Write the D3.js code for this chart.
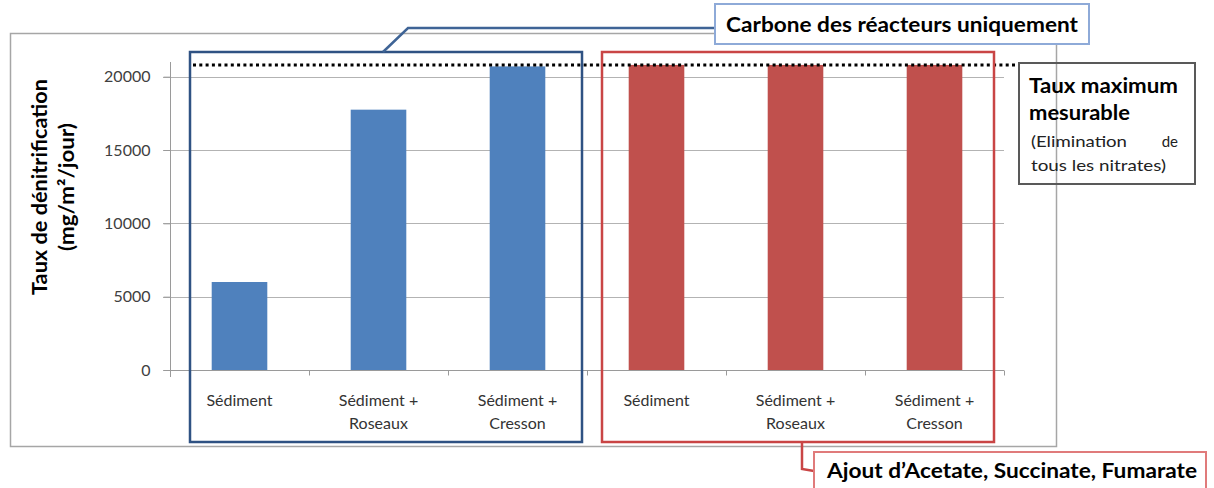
<!DOCTYPE html>
<html><head><meta charset="utf-8">
<script src="https://cdn.jsdelivr.net/npm/d3@7"></script>
<style>
html,body{margin:0;padding:0;background:#fff;}
svg{display:block;font-family:Lato,"Open Sans",sans-serif;}
</style></head>
<body>
<svg id="c" width="1214" height="488"></svg>
<script>
// ---- data ----
const categoryLabels = [["Sédiment"], ["Sédiment +", "Roseaux"], ["Sédiment +", "Cresson"]];
const reactorOnly = [6000, 17750, 20700];      // Carbone des réacteurs uniquement
const withAdditives = [20800, 20800, 20800];   // Ajout d'Acetate, Succinate, Fumarate
const maxMeasurable = 20800;
const yTicks = [0, 5000, 10000, 15000, 20000];
const groupTitles = ["Carbone des réacteurs uniquement", "Ajout d’Acetate, Succinate, Fumarate"];
const yTitle = ["Taux de dénitrification", "(mg/m²/jour)"];
const maxNote = ["Taux maximum", "mesurable"];
const maxNoteSmall = [["(Elimination", "de"], ["tous les nitrates)"]];

const rows = [];
reactorOnly.forEach((v, i) => rows.push({id: "a" + i, label: categoryLabels[i], value: v, group: 0}));
withAdditives.forEach((v, i) => rows.push({id: "b" + i, label: categoryLabels[i], value: v, group: 1}));

const svg = d3.select("#c");
const colors = ["#4f81bd", "#c0504d"];

// outer chart frame
svg.append("rect").attr("x", 10.5).attr("y", 33.5).attr("width", 1046).attr("height", 413)
  .attr("fill", "none").attr("stroke", "#a6a6a6").attr("stroke-width", 1.5);

const x = d3.scaleBand().domain(rows.map(d => d.id)).range([170, 1004])
  .paddingInner(0.6).paddingOuter(0.3);
const y = d3.scaleLinear().domain([0, 21000]).range([370, 62]);

// gridlines
svg.append("g").selectAll("line").data(yTicks).join("line")
  .attr("x1", 163).attr("x2", 1004)
  .attr("y1", d => Math.round(y(d)) + 0.5).attr("y2", d => Math.round(y(d)) + 0.5)
  .attr("stroke", "#b3b3b3").attr("stroke-width", 1);

// y axis
const ya = svg.append("g").attr("transform", "translate(170.5,0)")
  .call(d3.axisLeft(y).tickValues(yTicks).tickSize(7).tickPadding(13).tickFormat(d3.format("d")));
ya.select(".domain").attr("stroke", "#9a9a9a").attr("d", `M0,${y(21000)}V${y(0) + 7}`);
ya.selectAll(".tick line").attr("stroke", "#9a9a9a");
ya.selectAll("text").attr("font-size", 16).attr("fill", "#404040").attr("font-family", "Lato");

// x axis
const xa = svg.append("g").attr("transform", `translate(0,${Math.round(y(0)) + 0.5})`);
xa.append("line").attr("x1", 170).attr("x2", 1004).attr("stroke", "#9a9a9a");
const step = x.step();
xa.selectAll("line.t").data(d3.range(rows.length + 1)).join("line").attr("class", "t")
  .attr("x1", i => 170.5 + i * step).attr("x2", i => 170.5 + i * step)
  .attr("y1", 0).attr("y2", 5).attr("stroke", "#9a9a9a");
const xl = xa.selectAll("text").data(rows).join("text")
  .attr("text-anchor", "middle").attr("font-size", 16).attr("fill", "#333");
xl.each(function(d) {
  const t = d3.select(this);
  d.label.forEach((s, k) => t.append("tspan").attr("x", x(d.id) + x.bandwidth() / 2)
    .attr("y", 35 + k * 23).text(s));
});

// bars
svg.append("g").selectAll("rect").data(rows).join("rect")
  .attr("x", d => x(d.id)).attr("width", x.bandwidth())
  .attr("y", d => y(d.value)).attr("height", d => y(0) - y(d.value))
  .attr("fill", d => colors[d.group]);

// dotted max line
svg.append("line").attr("x1", 193).attr("x2", 1019)
  .attr("y1", y(maxMeasurable)).attr("y2", y(maxMeasurable))
  .attr("stroke", "#000").attr("stroke-width", 3).attr("stroke-dasharray", "3,3.3");

// group boxes
svg.append("rect").attr("x", 190).attr("y", 52).attr("width", 392).attr("height", 390)
  .attr("fill", "none").attr("stroke", "#2f5283").attr("stroke-width", 2.5);
svg.append("rect").attr("x", 602).attr("y", 52).attr("width", 392).attr("height", 390)
  .attr("fill", "none").attr("stroke", "#c94545").attr("stroke-width", 2.5);

// y title
const yt = svg.append("g").attr("transform", "translate(0,187)");
const yTitleLen = [216, 128];
yTitle.forEach((s, k) => yt.append("text")
  .attr("transform", `translate(${47 + k * 27},0) rotate(-90)`)
  .attr("text-anchor", "middle").attr("font-size", 21).attr("font-weight", "bold")
  .attr("textLength", yTitleLen[k]).attr("lengthAdjust", "spacingAndGlyphs")
  .attr("fill", "#000").text(s));

// top callout
svg.append("path").attr("d", "M383,52 L408,28 L715,28").attr("fill", "none")
  .attr("stroke", "#3f6496").attr("stroke-width", 2.5);
svg.append("rect").attr("x", 715).attr("y", 4).attr("width", 374).attr("height", 40)
  .attr("fill", "#fff").attr("stroke", "#8eaad8").attr("stroke-width", 2);
svg.append("text").attr("x", 726).attr("y", 32).attr("font-size", 20).attr("font-weight", "bold")
  .attr("textLength", 352).attr("lengthAdjust", "spacingAndGlyphs").text(groupTitles[0]);

// right callout
svg.append("rect").attr("x", 1019).attr("y", 63).attr("width", 176).attr("height", 121)
  .attr("fill", "none").attr("stroke", "#595959").attr("stroke-width", 2);
const noteLen = [149, 101];
maxNote.forEach((s, k) => svg.append("text").attr("x", 1029).attr("y", 93 + k * 27)
  .attr("font-size", 20).attr("font-weight", "bold")
  .attr("textLength", noteLen[k]).attr("lengthAdjust", "spacingAndGlyphs").text(s));
svg.append("text").attr("x", 1031).attr("y", 147).attr("font-size", 15).attr("fill", "#222")
  .attr("textLength", 96).attr("lengthAdjust", "spacingAndGlyphs").text(maxNoteSmall[0][0]);
svg.append("text").attr("x", 1178).attr("y", 147).attr("font-size", 15).attr("fill", "#222")
  .attr("text-anchor", "end").text(maxNoteSmall[0][1]);
svg.append("text").attr("x", 1031).attr("y", 171).attr("font-size", 15).attr("fill", "#222")
  .attr("textLength", 135).attr("lengthAdjust", "spacingAndGlyphs").text(maxNoteSmall[1][0]);

// bottom callout
svg.append("path").attr("d", "M802,442 L802,469 L814,471").attr("fill", "none")
  .attr("stroke", "#c94545").attr("stroke-width", 2.5);
svg.append("rect").attr("x", 814).attr("y", 452).attr("width", 392).attr("height", 60)
  .attr("fill", "#fff").attr("stroke", "#e07b7b").attr("stroke-width", 2);
svg.append("text").attr("x", 827).attr("y", 478).attr("font-size", 20).attr("font-weight", "bold")
  .attr("textLength", 370).attr("lengthAdjust", "spacingAndGlyphs").text(groupTitles[1]);
</script>
</body></html>
